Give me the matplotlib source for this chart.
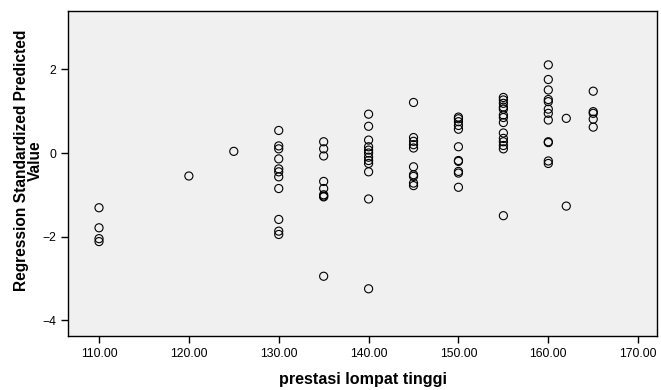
import numpy as np
import matplotlib
matplotlib.use("Agg")
import matplotlib.pyplot as plt

plt.rcParams['font.family'] = ['Liberation Sans', 'DejaVu Sans']

# predicted values grouped by prestasi lompat tinggi
groups = {
    110: [-1.31, -1.79, -2.05, -2.12],
    120: [-0.55],
    125: [0.04],
    130: [0.54, 0.17, 0.10, -0.14, -0.38, -0.45, -0.57, -0.85, -1.59, -1.87, -1.95],
    135: [0.27, 0.10, -0.07, -0.68, -0.85, -1.00, -1.03, -1.05, -2.95],
    140: [0.93, 0.64, 0.31, 0.15, 0.07, 0.00, -0.10, -0.18, -0.25, -0.45, -1.10, -3.25],
    145: [1.21, 0.37, 0.28, 0.20, 0.12, -0.33, -0.52, -0.56, -0.72, -0.78],
    150: [0.86, 0.82, 0.75, 0.66, 0.57, 0.15, -0.18, -0.20, -0.44, -0.48, -0.82],
    155: [1.33, 1.27, 1.19, 1.10, 1.05, 0.91, 0.85, 0.73, 0.48, 0.35, 0.27, 0.18, 0.10, -1.50],
    160: [2.11, 1.76, 1.51, 1.28, 1.23, 1.05, 0.95, 0.79, 0.27, 0.25, -0.19, -0.25],
    162: [0.83, -1.27],
    165: [1.48, 0.99, 0.95, 0.81, 0.62],
}

x = []
y = []
for k, vals in groups.items():
    x += [k] * len(vals)
    y += vals

fig = plt.figure(figsize=(6.61, 3.9), dpi=100)
ax = fig.add_axes([0.1029, 0.1385, 0.8911, 0.8333])
ax.set_facecolor('#f0f0f0')

ax.scatter(x, y, s=34, facecolors='none', edgecolors='black', linewidths=0.8)

ax.set_xlim(106.55, 172.1)
ax.set_ylim(-4.38, 3.40)
ax.set_xticks([110, 120, 130, 140, 150, 160, 170])
ax.set_xticklabels([f"{v:.2f}" for v in [110, 120, 130, 140, 150, 160, 170]])
ax.set_yticks([-4, -2, 0, 2])
ax.tick_params(direction='out', length=5, width=1, labelsize=8.8, colors='black')

for s in ax.spines.values():
    s.set_color('black')
    s.set_linewidth(1)

ax.set_xlabel('prestasi lompat tinggi', fontsize=11.6, fontweight='bold', labelpad=9)
ax.set_ylabel('Regression Standardized Predicted\nValue', fontsize=11.2,
              fontweight='bold', linespacing=0.95)
ax.yaxis.set_label_coords(-0.042, 0.54)

fig.savefig('out.png', dpi=100)
